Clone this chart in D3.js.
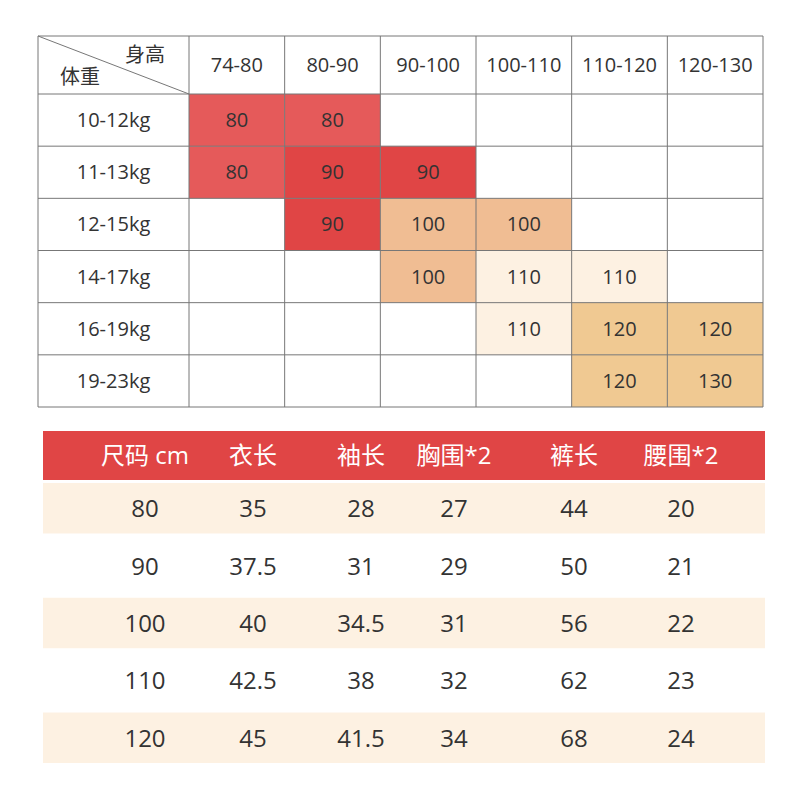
<!DOCTYPE html><html><head><meta charset="utf-8"><script src="https://cdn.jsdelivr.net/npm/d3@7"></script>
<style>body{margin:0;background:#fff}text{font-family:"Open Sans","Noto Sans CJK SC",sans-serif}</style></head><body>
<script>
const heights=["74-80","80-90","90-100","100-110","110-120","120-130"];
const weights=["10-12kg","11-13kg","12-15kg","14-17kg","16-19kg","19-23kg"];
// [row, col, size]
const cells=[[0,0,80],[0,1,80],[1,0,80],[1,1,90],[1,2,90],[2,1,90],[2,2,100],[2,3,100],[3,2,100],[3,3,110],[3,4,110],[4,3,110],[4,4,120],[4,5,120],[5,4,120],[5,5,130]];
const sizeColor={80:"#e55a5a",90:"#e04545",100:"#f0bd93",110:"#fdf1e2",120:"#f0c992",130:"#f0c992"};
const headers=["尺码 cm","衣长","袖长","胸围*2","裤长","腰围*2"];
const sizes=["80","90","100","110","120"];
const clothLen=["35","37.5","40","42.5","45"];
const sleeve=["28","31","34.5","38","41.5"];
const chest=["27","29","31","32","34"];
const pants=["44","50","56","62","68"];
const waist=["20","21","22","23","24"];

const svg=d3.select("body").append("svg").attr("width",800).attr("height",800);
const L=38,F=189,R=763,T=36,H=94,B=407;
const x=d3.scaleBand().domain(d3.range(6)).range([F,R]);
const y=d3.scaleBand().domain(d3.range(6)).range([H,B]);
const g=svg.append("g");
g.selectAll("rect.c").data(cells).join("rect").attr("x",d=>x(d[1])).attr("y",d=>y(d[0])).attr("width",x.bandwidth()).attr("height",y.bandwidth()).attr("fill",d=>sizeColor[d[2]]);
g.selectAll("text.c").data(cells).join("text").attr("x",d=>x(d[1])+x.bandwidth()/2).attr("y",d=>y(d[0])+y.bandwidth()/2+7).attr("text-anchor","middle").attr("font-size",20).attr("fill","#333").text(d=>d[2]);
const line=(x1,y1,x2,y2)=>g.append("line").attr("x1",x1).attr("y1",y1).attr("x2",x2).attr("y2",y2).attr("stroke","#777").attr("stroke-width",1);
[L,...d3.range(6).map(i=>x(i)),R].forEach(v=>line(v,T,v,B));
[T,...d3.range(6).map(i=>y(i)),B].forEach(v=>line(L,v,R,v));
line(L,T,F,H);
g.append("text").attr("x",145).attr("y",62).attr("text-anchor","middle").attr("font-size",20).attr("fill","#333").text("身高");
g.append("text").attr("x",80).attr("y",84).attr("text-anchor","middle").attr("font-size",20).attr("fill","#333").text("体重");
g.selectAll("text.h").data(heights).join("text").attr("x",(d,i)=>x(i)+x.bandwidth()/2).attr("y",(T+H)/2+7).attr("text-anchor","middle").attr("font-size",20).attr("fill","#333").text(d=>d);
g.selectAll("text.w").data(weights).join("text").attr("x",(L+F)/2).attr("y",(d,i)=>y(i)+y.bandwidth()/2+7).attr("text-anchor","middle").attr("font-size",20).attr("fill","#333").text(d=>d);

const cols=[145,253,361,454,574,681];
const g2=svg.append("g");
g2.append("rect").attr("x",43).attr("y",431).attr("width",722).attr("height",49).attr("fill","#e04545");
g2.selectAll("text.hh").data(headers).join("text").attr("x",(d,i)=>cols[i]).attr("y",464).attr("text-anchor","middle").attr("font-size",24).attr("fill","#fff").text(d=>d);
const ry=d3.scaleBand().domain(d3.range(5)).range([483,763]).paddingInner(0.12);
const rows=sizes.map((s,i)=>[s,clothLen[i],sleeve[i],chest[i],pants[i],waist[i]]);
g2.selectAll("rect.r").data(rows).join("rect").attr("x",43).attr("y",(d,i)=>ry(i)).attr("width",722).attr("height",ry.bandwidth()).attr("fill",(d,i)=>i%2==0?"#fdf1e2":"#fff");
rows.forEach((r,i)=>g2.selectAll("text.r"+i).data(r).join("text").attr("x",(d,j)=>cols[j]).attr("y",ry(i)+ry.bandwidth()/2+9).attr("text-anchor","middle").attr("font-size",24).attr("fill","#333").text(d=>d));
</script></body></html>
